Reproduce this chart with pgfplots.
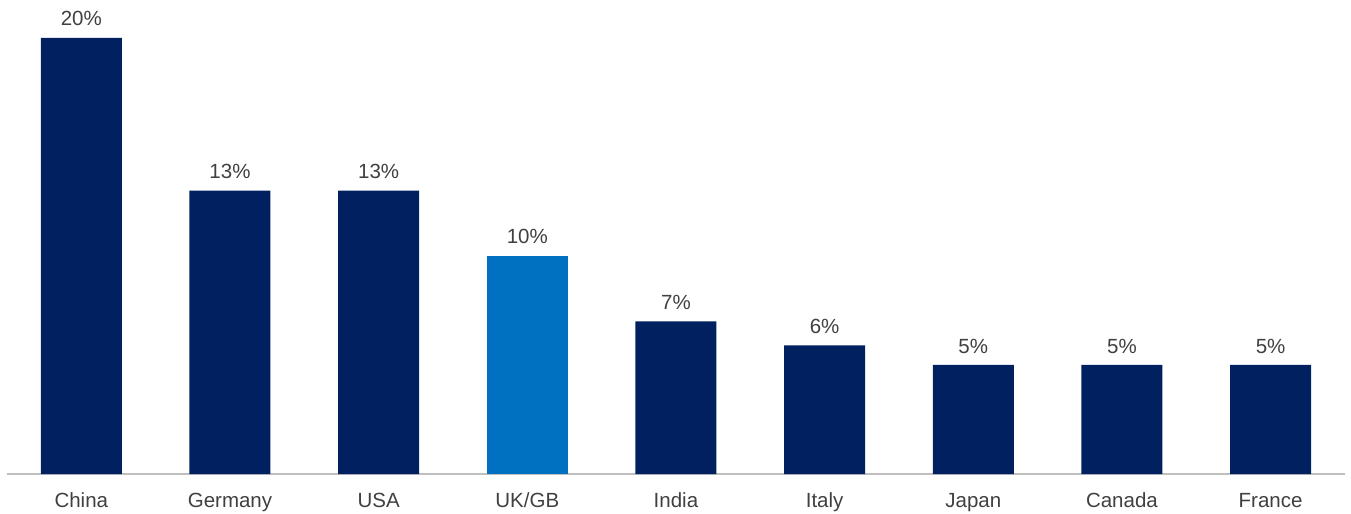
\documentclass[border=0pt]{standalone}
\usepackage{fontspec}
\setmainfont{Liberation Sans}
\usepackage{pgfplots}
\usepackage{pgfplotstable}
\pgfplotsset{compat=1.18}
\definecolor{navy}{RGB}{0,32,96}
\definecolor{ukblue}{RGB}{0,112,192}
\definecolor{txt}{RGB}{64,64,64}
\definecolor{axisgrey}{RGB}{191,191,191}
\pgfplotstableread{
x y lab
0 20 20\%
1 13 13\%
2 13 13\%
4 7 7\%
5 5.9 6\%
6 5 5\%
7 5 5\%
8 5 5\%
}\navydata
\pgfplotstableread{
x y lab
3 10 10\%
}\ukdata
\newcommand{\chartfont}{\fontsize{20.5bp}{24bp}\selectfont}
\begin{document}
\begin{tikzpicture}
\useasboundingbox (-7bp,-40bp) rectangle (1344bp,474bp);
\begin{axis}[
  scale only axis,
  width=1338bp, height=436bp,
  xmin=-0.5, xmax=8.5,
  ymin=0, ymax=20,
  clip=false,
  axis y line=none,
  axis x line*=bottom,
  x axis line style={draw=axisgrey, line width=1.2bp, -},
  xtick={0,1,2,3,4,5,6,7,8},
  xticklabels={China,Germany,USA,UK/GB,India,Italy,Japan,Canada,France},
  major tick length=0pt,
  xticklabel style={font=\chartfont, text=txt, anchor=base, inner sep=0pt, yshift=-33bp},
  ybar, bar width=81bp, bar shift=0pt,
  nodes near coords,
  point meta=explicit symbolic,
  every node near coord/.append style={font=\chartfont, text=txt, anchor=base, inner sep=0pt, yshift=12bp},
]
\addplot[fill=navy, draw=none] table[x=x, y=y, meta=lab] {\navydata};
\addplot[fill=ukblue, draw=none] table[x=x, y=y, meta=lab] {\ukdata};
\end{axis}
\end{tikzpicture}
\end{document}
